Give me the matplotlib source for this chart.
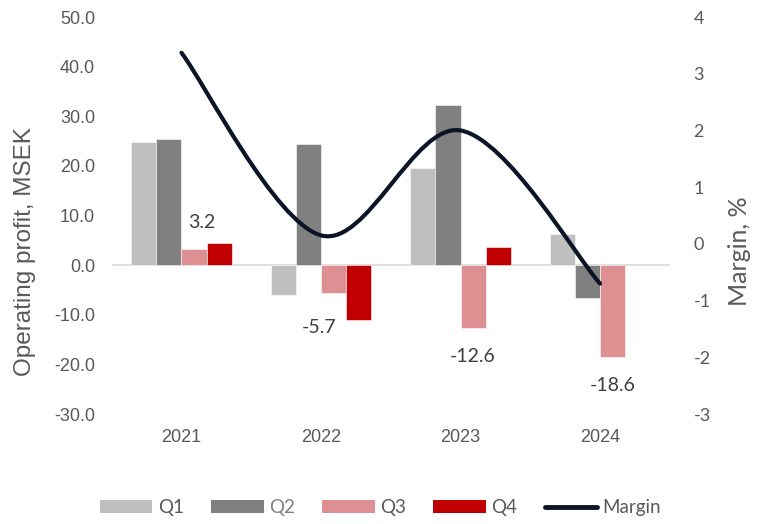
import numpy as np
import matplotlib
matplotlib.use("Agg")
import matplotlib.pyplot as plt
from matplotlib.path import Path
from matplotlib.patches import PathPatch, Patch
from matplotlib.lines import Line2D

# ==========================================
# DATA
# ==========================================
years = ["2021", "2022", "2023", "2024"]
q1 = [24.9, -6.0, 19.5, 6.2]
q2 = [25.5, 24.5, 32.3, -6.6]
q3 = [3.2, -5.7, -12.6, -18.6]
q4 = [4.5, -11.0, 3.6, np.nan]
margin = [3.37, 0.15, 2.0, -0.70]

series_names = ["Q1", "Q2", "Q3", "Q4"]
colors = ["#bfbfbf", "#808080", "#de8f92", "#c00000"]
line_color = "#0c1526"
text_gray = "#595959"

# where the Q3 value labels sit (x shift from group centre, y in MSEK)
label_dx = [0.147, -0.014, 0.09, 0.093]
label_y = [8.6, -12.6, -18.5, -24.3]

ARIAL = "Liberation Sans"
CALIBRI = "Lato"

fig = plt.figure(figsize=(7.58, 5.24), dpi=100)
ax = fig.add_axes([0.1474, 0.2099, 0.7362, 0.7576])
ax2 = ax.twinx()

x = np.arange(len(years))
w = 0.18
for i, (vals, c) in enumerate(zip([q1, q2, q3, q4], colors)):
  ax.bar(x + (i - 1.5) * w, vals, width=w, color=c,
         edgecolor="white", linewidth=0.4, zorder=2)

ax.axhline(0, color="#d9d9d9", linewidth=1.2, zorder=1)

for xi, dx, ly, v in zip(x, label_dx, label_y, q3):
  ax.text(xi + dx, ly, f"{v:.1f}", ha="center", va="center",
          fontsize=14, family=CALIBRI, color="#404040", zorder=4)

# smoothed margin line (bezier segments, Excel-style smoothing)
pts = np.column_stack([x, margin]).astype(float)
verts = [tuple(pts[0])]
codes = [Path.MOVETO]
n = len(pts)
for i in range(n - 1):
  p_prev = pts[max(i - 1, 0)]
  p0, p1 = pts[i], pts[i + 1]
  p_next = pts[min(i + 2, n - 1)]
  c1 = p0 + (p1 - p_prev) / 6.0
  c2 = p1 - (p_next - p0) / 6.0
  verts += [tuple(c1), tuple(c2), tuple(p1)]
  codes += [Path.CURVE4] * 3
ax2.add_patch(PathPatch(Path(verts, codes), fill=False, edgecolor=line_color,
                        linewidth=3.0, capstyle="round", zorder=5))

# axes styling
ax.set_xlim(-0.5, 3.5)
ax.set_ylim(-30, 50)
ax.set_yticks(np.arange(-30, 51, 10))
ax.set_yticklabels([f"{t:.1f}" for t in np.arange(-30, 51, 10)],
                   family=ARIAL, fontsize=13, color=text_gray)
ax.set_xticks(x)
ax.set_xticklabels(years, family=ARIAL, fontsize=13, color=text_gray)
ax.tick_params(axis="y", length=0, pad=12)
ax.tick_params(axis="x", length=0, pad=11)

ax2.set_ylim(-3, 4)
ax2.set_yticks(np.arange(-3, 5, 1))
ax2.set_yticklabels([str(t) for t in np.arange(-3, 5, 1)],
                    family=CALIBRI, fontsize=13, color=text_gray)
ax2.tick_params(axis="y", length=0, pad=17)

for a in (ax, ax2):
  for s in a.spines.values():
    s.set_visible(False)

ax.set_ylabel("Operating profit, MSEK", family=ARIAL, fontsize=17.5,
              color=text_gray)
ax.yaxis.set_label_coords(-0.136, 0.41)
ax2.set_ylabel("Margin, %", family=CALIBRI, fontsize=18, color=text_gray)
ax2.yaxis.set_label_coords(1.105, 0.41)

handles = [Patch(facecolor=c, edgecolor="none") for c in colors]
handles.append(Line2D([0], [0], color=line_color, linewidth=3.5,
                      solid_capstyle="round"))
leg = fig.legend(handles, series_names + ["Margin"], loc="center",
                 bbox_to_anchor=(0.502, 0.031), ncol=5, frameon=False,
                 prop={"family": CALIBRI, "size": 13.5},
                 handlelength=2.8, handleheight=0.7, handletextpad=0.3,
                 columnspacing=1.45)
for t in leg.get_texts():
  t.set_color(text_gray)
leg.get_texts()[1].set_color("#808080")

fig.savefig("out.png", dpi=100)
